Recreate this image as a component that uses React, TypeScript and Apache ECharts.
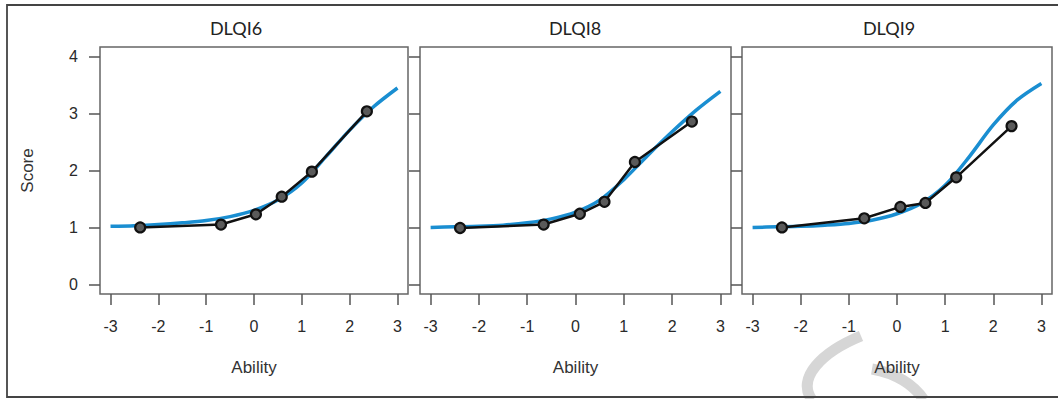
import React, { useEffect, useRef } from "react";
import * as echarts from "echarts";

const panelTitles = ["DLQI6", "DLQI8", "DLQI9"];
const tickAbility = [-3, -2, -1, 0, 1, 2, 3];
const tickScore = [0, 1, 2, 3, 4];

// observed points (black)
const obsAbility6 = [-2.38, -0.69, 0.04, 0.58, 1.21, 2.36];
const obsScore6 = [1.0, 1.05, 1.23, 1.54, 1.98, 3.04];
const obsAbility8 = [-2.39, -0.66, 0.09, 0.6, 1.23, 2.41];
const obsScore8 = [0.99, 1.05, 1.24, 1.45, 2.15, 2.86];
const obsAbility9 = [-2.39, -0.68, 0.07, 0.59, 1.23, 2.38];
const obsScore9 = [1.0, 1.16, 1.36, 1.43, 1.88, 2.78];

// expected score curves (blue)
const curveAbility = [-3, -2.5, -2, -1.5, -1, -0.5, 0, 0.5, 1, 1.5, 2, 2.5, 3];
const curve6 = [1.02, 1.03, 1.05, 1.08, 1.12, 1.19, 1.3, 1.48, 1.78, 2.24, 2.71, 3.12, 3.45];
const curve8 = [1.0, 1.01, 1.02, 1.04, 1.08, 1.15, 1.27, 1.48, 1.84, 2.27, 2.68, 3.06, 3.39];
const curve9 = [1.0, 1.01, 1.02, 1.04, 1.07, 1.13, 1.24, 1.42, 1.74, 2.24, 2.8, 3.24, 3.53];

const obsAbility = [obsAbility6, obsAbility8, obsAbility9];
const obsScore = [obsScore6, obsScore8, obsScore9];
const curves = [curve6, curve8, curve9];

const gridLefts = [100, 420, 742];
const gridWidths = [308, 311, 310];
const titleX = [236, 575, 889];

const zip = (xs: number[], ys: number[]) => xs.map((x, i) => [x, ys[i]]);

export default function App() {
  const ref = useRef<HTMLDivElement>(null);
  useEffect(() => {
    if (!ref.current) return;
    const chart = echarts.init(ref.current, null, { renderer: "svg" });
    const labelFont = "Liberation Sans, Arial, sans-serif";
    const grids = gridLefts.map((l, i) => ({
      left: l,
      top: 47,
      width: gridWidths[i],
      height: 247,
      show: true,
      borderColor: "#666",
      borderWidth: 1.5,
      backgroundColor: "transparent",
    }));
    const xAxes = gridLefts.map((_, i) => ({
      type: "value",
      gridIndex: i,
      position: "bottom",
      min: -3.22,
      max: 3.22,
      name: "Ability",
      nameLocation: "middle",
      nameGap: 65,
      nameTextStyle: { fontFamily: labelFont, fontSize: 17, color: "#333" },
      axisLine: { show: false, onZero: false },
      splitLine: { show: false },
      axisTick: {
        show: true,
        inside: false,
        length: 11,
        customValues: tickAbility,
        lineStyle: { color: "#555", width: 1.5 },
      },
      axisLabel: {
        show: true,
        customValues: tickAbility,
        margin: 24,
        fontFamily: labelFont,
        fontSize: 16,
        color: "#2a2a2a",
      },
    }));
    const yAxes = gridLefts.map((_, i) => ({
      type: "value",
      gridIndex: i,
      position: "left",
      min: -0.17,
      max: 4.17,
      name: i === 0 ? "Score" : "",
      nameLocation: "middle",
      nameGap: 64,
      nameTextStyle: { fontFamily: labelFont, fontSize: 17, color: "#333" },
      axisLine: { show: false, onZero: false },
      splitLine: { show: false },
      axisTick: {
        show: true,
        inside: false,
        length: 11,
        customValues: tickScore,
        lineStyle: { color: "#555", width: 1.5 },
      },
      axisLabel: {
        show: i === 0,
        customValues: tickScore,
        margin: 22,
        fontFamily: labelFont,
        fontSize: 16,
        color: "#2a2a2a",
      },
    }));
    const series: any[] = [];
    for (let i = 0; i < 3; i++) {
      series.push({
        type: "line",
        xAxisIndex: i,
        yAxisIndex: i,
        data: zip(curveAbility, curves[i]),
        smooth: 0.3,
        showSymbol: false,
        symbol: "none",
        lineStyle: { color: "#1a8ed1", width: 3.5 },
        z: 2,
      });
      series.push({
        type: "line",
        xAxisIndex: i,
        yAxisIndex: i,
        data: zip(obsAbility[i], obsScore[i]),
        symbol: "circle",
        symbolSize: 10,
        itemStyle: { color: "#5a5a5a", borderColor: "#111", borderWidth: 2.2 },
        lineStyle: { color: "#111", width: 2.5 },
        z: 3,
      });
    }
    chart.setOption({
      animation: false,
      backgroundColor: "#fff",
      grid: grids,
      xAxis: xAxes,
      yAxis: yAxes,
      series,
      graphic: [
        {
          type: "bezierCurve",
          z: 0,
          silent: true,
          shape: { x1: 861, y1: 336, cpx1: 822, cpy1: 352, cpx2: 796, cpy2: 378, x2: 812, y2: 400 },
          style: { stroke: "#d6d6d6", lineWidth: 11, fill: null },
        },
        {
          type: "bezierCurve",
          z: 0,
          silent: true,
          shape: { x1: 872, y1: 369, cpx1: 896, cpy1: 373, cpx2: 914, cpy2: 385, x2: 924, y2: 400 },
          style: { stroke: "#d6d6d6", lineWidth: 11, fill: null },
        },
        {
          type: "rect",
          z: 10,
          silent: true,
          shape: { x: 7, y: 5, width: 1060, height: 392 },
          style: { stroke: "#444", lineWidth: 1.8, fill: null },
        },
        ...panelTitles.map((t, i) => ({
          type: "text",
          z: 10,
          x: titleX[i],
          y: 28,
          style: {
            text: t,
            font: "18px Lato, 'Open Sans', sans-serif",
            fill: "#222",
            textAlign: "center",
            textVerticalAlign: "middle",
          },
        })),
      ],
    });
    return () => chart.dispose();
  }, []);
  return (
    <div
      ref={ref}
      style={{ position: "fixed", left: 0, top: 0, width: 1058, height: 399, background: "#fff" }}
    />
  );
}
